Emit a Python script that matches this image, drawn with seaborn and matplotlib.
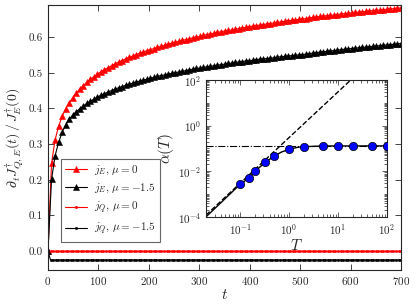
import numpy as np
import seaborn as sns
import matplotlib
matplotlib.use('Agg')
import matplotlib.pyplot as plt
from matplotlib.ticker import FixedLocator, LogLocator, NullFormatter

# time grid of the j_E curves (one triangle every 7 time units)
t = np.arange(0, 701, 7)
jE_mu0 = [
    0.000, 0.246, 0.312, 0.350, 0.378, 0.399, 0.416, 0.430, 0.443, 0.454, 0.464,
    0.473, 0.482, 0.489, 0.496, 0.503, 0.509, 0.514, 0.520, 0.525, 0.530,
    0.534, 0.539, 0.543, 0.547, 0.551, 0.555, 0.558, 0.562, 0.565, 0.568,
    0.571, 0.574, 0.577, 0.580, 0.583, 0.586, 0.588, 0.591, 0.593, 0.595,
    0.598, 0.600, 0.602, 0.605, 0.607, 0.609, 0.611, 0.613, 0.615, 0.617,
    0.619, 0.620, 0.622, 0.624, 0.626, 0.627, 0.629, 0.631, 0.632, 0.634,
    0.635, 0.637, 0.638, 0.640, 0.641, 0.643, 0.644, 0.646, 0.647, 0.648,
    0.650, 0.651, 0.652, 0.654, 0.655, 0.656, 0.658, 0.659, 0.660, 0.661,
    0.662, 0.663, 0.665, 0.666, 0.667, 0.668, 0.669, 0.670, 0.671, 0.672,
    0.673, 0.674, 0.675, 0.676, 0.677, 0.678, 0.679, 0.680, 0.681, 0.682,
]
jE_mu15 = [
    0.000, 0.201, 0.267, 0.305, 0.333, 0.354, 0.370, 0.381, 0.391, 0.399, 0.407,
    0.414, 0.420, 0.426, 0.432, 0.437, 0.441, 0.446, 0.450, 0.454, 0.458,
    0.461, 0.465, 0.468, 0.471, 0.474, 0.477, 0.479, 0.482, 0.485, 0.487,
    0.490, 0.492, 0.494, 0.496, 0.498, 0.500, 0.502, 0.504, 0.506, 0.508,
    0.510, 0.512, 0.513, 0.515, 0.517, 0.518, 0.520, 0.521, 0.523, 0.524,
    0.526, 0.527, 0.529, 0.530, 0.531, 0.533, 0.534, 0.535, 0.537, 0.538,
    0.539, 0.540, 0.541, 0.542, 0.544, 0.545, 0.546, 0.547, 0.548, 0.549,
    0.550, 0.551, 0.552, 0.554, 0.555, 0.556, 0.558, 0.559, 0.560, 0.561,
    0.562, 0.563, 0.565, 0.566, 0.567, 0.568, 0.569, 0.570, 0.571, 0.572,
    0.573, 0.574, 0.575, 0.576, 0.577, 0.578, 0.579, 0.580, 0.581, 0.582,
]

# j_Q curves are flat
tq = np.arange(0, 701, 5)
jQ_mu0 = [0.0] * len(tq)
jQ_mu15 = [0.0] + [-0.025] * (len(tq) - 1)

# inset: alpha(T)
T_pts = [0.1, 0.15, 0.2, 0.33, 0.5, 1, 2, 5, 10, 20, 50, 100]
alpha_pts = [2.7e-3, 5e-3, 1.0e-2, 2.5e-2, 4.7e-2, 9.1e-2, 0.12, 0.129, 0.13, 0.13, 0.13, 0.13]
T_curve = [0.02, 0.1, 0.15, 0.2, 0.33, 0.5, 0.7, 1, 1.5, 2, 5, 100]
alpha_curve = [1.0e-4, 2.7e-3, 5e-3, 1.0e-2, 2.5e-2, 4.7e-2, 7e-2, 9.1e-2, 0.113, 0.12, 0.129, 0.13]
T_dash = [0.02, 20]
alpha_dash = [1.2e-4, 120]
alpha_plateau = 0.13

sns.set_style('ticks')
plt.rcParams['font.family'] = 'serif'
plt.rcParams['font.serif'] = ['cmr10', 'DejaVu Serif']
plt.rcParams['mathtext.fontset'] = 'cm'
plt.rcParams['axes.unicode_minus'] = False
plt.rcParams['axes.formatter.use_mathtext'] = True

fig = plt.figure(figsize=(4.16, 3.07), dpi=100)
ax = fig.add_axes([0.1154, 0.1205, 0.8486, 0.8632])

sns.lineplot(x=t, y=jE_mu0, ax=ax, color='red', lw=0.8, marker='^', markersize=4.3,
             markeredgecolor='red', markeredgewidth=0.4, label=r'$j_E,\,\mu=0$')
sns.lineplot(x=t, y=jE_mu15, ax=ax, color='black', lw=0.8, marker='^', markersize=4.3,
             markeredgecolor='black', markeredgewidth=0.4, label=r'$j_E,\,\mu=-1.5$')
sns.lineplot(x=tq, y=jQ_mu0, ax=ax, color='red', lw=0.8, marker='o', markersize=1.8,
             markeredgecolor='red', markeredgewidth=0.3, label=r'$j_Q,\,\mu=0$')
sns.lineplot(x=tq, y=jQ_mu15, ax=ax, color='black', lw=0.8, marker='o', markersize=1.8,
             markeredgecolor='black', markeredgewidth=0.3, label=r'$j_Q,\,\mu=-1.5$')

ax.set_xlim(0, 700)
ax.set_ylim(-0.053, 0.69)
ax.set_xticks(range(0, 701, 100))
ax.set_yticks([0.0, 0.1, 0.2, 0.3, 0.4, 0.5, 0.6])
ax.set_yticklabels(['0.0', '0.1', '0.2', '0.3', '0.4', '0.5', '0.6'])
ax.tick_params(direction='in', top=True, right=True, labelsize=8, length=4, width=0.6)
for s in ax.spines.values():
    s.set_linewidth(0.8)
ax.set_xlabel(r'$t$', fontsize=11, labelpad=1)
ax.set_ylabel(r'$\partial_t J^{\dagger}_{Q,E}(t)\,/\,J^{\dagger}_{E}(0)$', fontsize=10, labelpad=2)

leg = ax.legend(loc='lower left', bbox_to_anchor=(0.02, 0.085), fontsize=8,
                fancybox=False, edgecolor='0.4', framealpha=1, handlelength=2.0,
                borderpad=0.4, labelspacing=0.42, handletextpad=0.6)
leg.get_frame().set_linewidth(0.8)

# inset
ins = fig.add_axes([0.495, 0.2932, 0.435, 0.4462])
sns.lineplot(x=T_curve, y=alpha_curve, ax=ins, color='black', lw=1)
sns.lineplot(x=T_dash, y=alpha_dash, ax=ins, color='black', lw=1, linestyle='--')
ins.axhline(alpha_plateau, color='black', lw=0.8, linestyle='-.')
sns.scatterplot(x=T_pts, y=alpha_pts, ax=ins, color='blue', edgecolor='black',
                linewidth=0.5, s=36, zorder=5)
ins.set_xscale('log')
ins.set_yscale('log')
ins.set_xlim(0.02, 100)
ins.set_ylim(1e-4, 1e2)
ins.yaxis.set_major_locator(FixedLocator([1e-4, 1e-2, 1e0, 1e2]))
ins.yaxis.set_minor_locator(LogLocator(base=10, subs=np.arange(1, 10), numticks=20))
ins.yaxis.set_minor_formatter(NullFormatter())
ins.xaxis.set_major_locator(FixedLocator([1e-1, 1e0, 1e1, 1e2]))
ins.xaxis.set_minor_locator(LogLocator(base=10, subs=np.arange(2, 10), numticks=20))
ins.xaxis.set_minor_formatter(NullFormatter())
ins.tick_params(which='both', direction='in', top=True, right=True, labelsize=8, width=0.5)
ins.tick_params(which='major', length=3.5)
ins.tick_params(which='minor', length=2)
for s in ins.spines.values():
    s.set_linewidth(0.8)
ins.set_xlabel(r'$T$', fontsize=11, labelpad=1)
ins.set_ylabel(r'$\alpha(T)$', fontsize=11, labelpad=1)

fig.savefig('out.png', dpi=100)
